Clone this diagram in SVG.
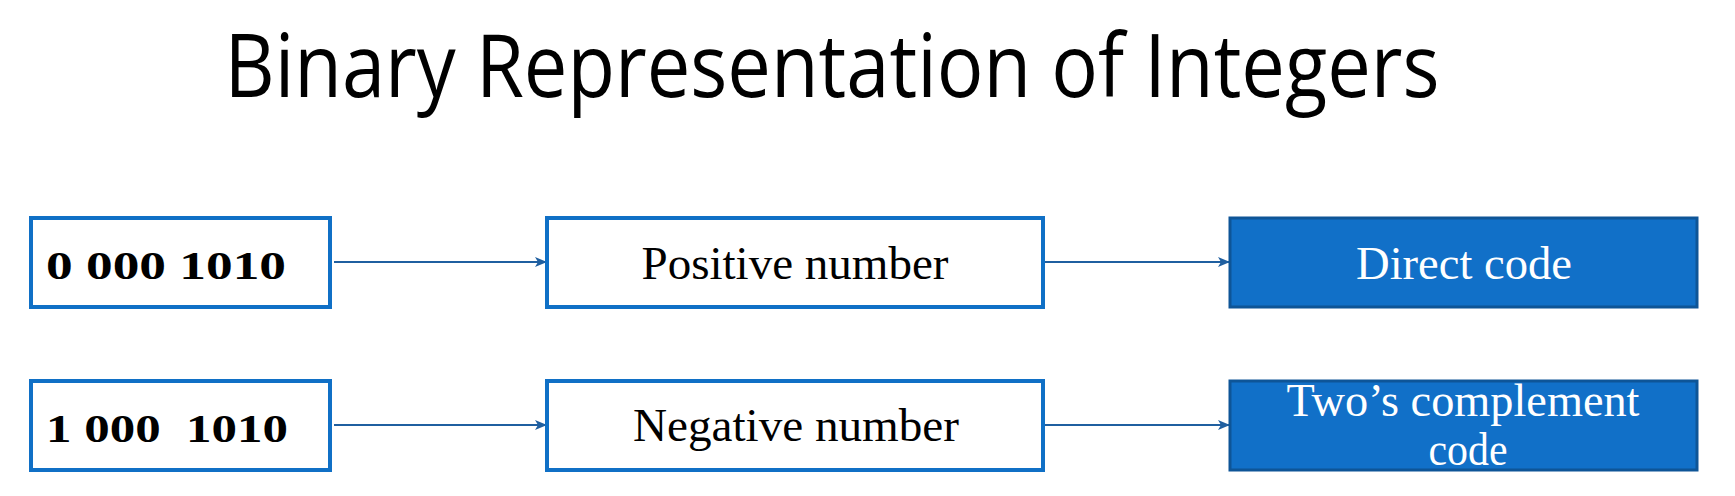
<svg xmlns="http://www.w3.org/2000/svg" width="1735" height="496" viewBox="0 0 1735 496">
<style>
.box{fill:#fff;stroke:#1070C6;stroke-width:4}
.fbox{fill:#1170C8;stroke:#0E5597;stroke-width:3}
.t{font-family:"Liberation Serif","DejaVu Serif",serif;font-size:46px;fill:#000;text-anchor:middle}
.b{font-family:"Liberation Serif","DejaVu Serif",serif;font-size:40px;font-weight:bold;fill:#000}
.w{fill:#fff}
.c{stroke:#1F5FA0;stroke-width:1.8;fill:none;marker-end:url(#ah)}
</style>
<defs>
<marker id="ah" viewBox="0 0 12 10" refX="12" refY="5" markerWidth="12" markerHeight="10" markerUnits="userSpaceOnUse" orient="auto">
<path d="M0,0 L12,5 L0,10 L3,5 Z" fill="#1F5FA0"/>
</marker>
</defs>
<rect width="1735" height="496" fill="#fff"/>
<text id="title" x="832" y="97" text-anchor="middle" font-family="'Open Sans','Liberation Sans',sans-serif" font-size="88" textLength="1215" lengthAdjust="spacingAndGlyphs" fill="#000">Binary Representation of Integers</text>
<g id="connectors">
<line class="c" x1="334" y1="262" x2="547" y2="262"/>
<line class="c" x1="1043" y1="262" x2="1230" y2="262"/>
<line class="c" x1="334" y1="425" x2="547" y2="425"/>
<line class="c" x1="1043" y1="425" x2="1230" y2="425"/>
</g>
<g id="n-pos-bits">
<rect class="box" x="31" y="218" width="299" height="89"/>
<text class="b" x="46" y="279" textLength="240" lengthAdjust="spacingAndGlyphs">0 000 1010</text>
</g>
<g id="n-neg-bits">
<rect class="box" x="31" y="381" width="299" height="89"/>
<text class="b" x="46" y="442" textLength="242" lengthAdjust="spacingAndGlyphs" xml:space="preserve">1 000  1010</text>
</g>
<g id="n-positive">
<rect class="box" x="547" y="218" width="496" height="89"/>
<text class="t" x="795" y="279" textLength="307" lengthAdjust="spacingAndGlyphs">Positive number</text>
</g>
<g id="n-negative">
<rect class="box" x="547" y="381" width="496" height="89"/>
<text class="t" x="796" y="441" textLength="326" lengthAdjust="spacingAndGlyphs">Negative number</text>
</g>
<g id="n-direct">
<rect class="fbox" x="1230" y="218" width="467" height="89"/>
<text class="t w" x="1464" y="279" textLength="216" lengthAdjust="spacingAndGlyphs">Direct code</text>
</g>
<g id="n-twos">
<rect class="fbox" x="1230" y="381" width="467" height="89"/>
<text class="t w" x="1463" y="416" textLength="353" lengthAdjust="spacingAndGlyphs">Two’s complement</text>
<text class="t w" x="1468" y="465" textLength="79" lengthAdjust="spacingAndGlyphs">code</text>
</g>
</svg>
